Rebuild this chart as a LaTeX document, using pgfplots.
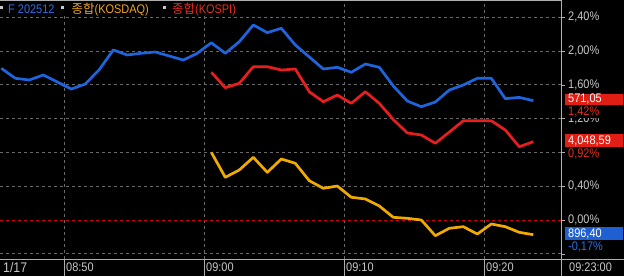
\documentclass[border=0pt]{standalone}
\usepackage{fontspec}
\setmainfont[FakeStretch=0.88]{Liberation Sans}
\newfontfamily\kr{Noto Sans CJK KR}
\usepackage{pgfplots}
\usepackage{pgfplotstable}
\pgfplotsset{compat=1.18}

\definecolor{cblue}{RGB}{30,100,220}
\definecolor{cred}{RGB}{232,30,30}
\definecolor{cyel}{RGB}{240,170,0}
\definecolor{cgrid}{RGB}{105,105,105}
\definecolor{caxis}{RGB}{175,175,175}
\definecolor{ctxt}{RGB}{200,200,200}
\definecolor{boxred}{RGB}{225,30,20}
\definecolor{boxblue}{RGB}{30,95,210}
\definecolor{lblue}{RGB}{45,110,230}
\definecolor{lred}{RGB}{230,45,30}
\definecolor{lyel}{RGB}{240,165,30}

% minutes since 08:00 (bar plotted at minute + 0.5), change in percent
\pgfplotstableread{
t v
45.5 1.795
46.5 1.677
47.5 1.657
48.5 1.716
49.5 1.633
50.5 1.550
51.5 1.609
52.5 1.780
53.5 2.012
54.5 1.953
55.5 1.973
56.5 1.988
57.5 1.941
58.5 1.893
59.5 1.973
60.5 2.098
61.5 1.973
62.5 2.110
63.5 2.308
64.5 2.217
65.5 2.269
66.5 2.071
67.5 1.929
68.5 1.787
69.5 1.807
70.5 1.748
71.5 1.846
72.5 1.807
73.5 1.586
74.5 1.408
75.5 1.341
76.5 1.396
77.5 1.538
78.5 1.598
79.5 1.677
80.5 1.677
81.5 1.436
82.5 1.451
83.5 1.412
}\futures

\pgfplotstableread{
t v
60.5 1.748
61.5 1.566
62.5 1.618
63.5 1.814
64.5 1.814
65.5 1.775
66.5 1.787
67.5 1.518
68.5 1.400
69.5 1.479
70.5 1.381
71.5 1.518
72.5 1.381
73.5 1.189
74.5 1.030
75.5 1.006
76.5 0.908
77.5 1.041
78.5 1.175
79.5 1.175
80.5 1.175
81.5 1.065
82.5 0.867
83.5 0.927
}\kospi

\pgfplotstableread{
t v
60.5 0.801
61.5 0.505
62.5 0.592
63.5 0.742
64.5 0.564
65.5 0.722
66.5 0.671
67.5 0.465
68.5 0.375
69.5 0.402
70.5 0.269
71.5 0.249
72.5 0.166
73.5 0.032
74.5 0.020
75.5 0.000
76.5 -0.186
77.5 -0.098
78.5 -0.079
79.5 -0.166
80.5 -0.047
81.5 -0.079
82.5 -0.146
83.5 -0.174
}\kosdaq

\begin{document}
\begin{tikzpicture}[x=1bp,y=1bp]
\useasboundingbox (0,-17) rectangle (624,259);
\fill[black] (0,-17) rectangle (624,259);
\begin{axis}[
  at={(0,0)}, anchor=south west,
  scale only axis, width=561bp, height=259bp,
  xmin=45.407, xmax=85.479, ymin=-0.4615, ymax=2.6036,
  axis line style={draw=none},
  xtick={50,60,70,80}, xticklabels={,,,},
  xtick style={draw=none},
  xmajorgrids, ymajorgrids,
  grid style={cgrid, dash pattern=on 3bp off 3bp, line width=0.7bp},
  ytick={-0.4,0.4,0.8,1.2,1.6,2.0,2.4},
  yticklabels={{},{0,40\%},{},{1,20\%},{1,60\%},{2,00\%},{2,40\%}},
  extra y ticks={0}, extra y tick labels={{0{,}00\%}},
  extra y tick style={grid style={red!80!black, dash pattern=on 3bp off 3bp, line width=0.7bp}},
  minor y tick num=3,
  ytick pos=right, yticklabel pos=right,
  tick align=outside,
  major tick length=4bp, minor tick length=2bp,
  ytick style={caxis, line width=0.6bp},
  yticklabel style={anchor=west, inner sep=0pt, xshift=3bp, font=\fontsize{12.5}{14}\selectfont, text=ctxt},
  clip=false,
]
\addplot[cblue, line width=2.7bp, line join=round] table[x=t,y=v]{\futures};
\addplot[cred, line width=2.7bp, line join=round] table[x=t,y=v]{\kospi};
\addplot[cyel, line width=2.7bp, line join=round] table[x=t,y=v]{\kosdaq};
\coordinate (eb) at (axis cs:83.5,1.412);
\coordinate (er) at (axis cs:83.5,0.927);
\coordinate (ey) at (axis cs:83.5,-0.174);
\end{axis}

% frame lines
\draw[caxis, line width=0.8bp] (0,258.6) -- (561,258.6);
\draw[caxis, line width=0.8bp] (561,-17) -- (561,259);
\draw[caxis, line width=0.8bp] (0,0) -- (624,0);
\foreach \xx in {64.3,204.3,344.3,484.3}
  \draw[caxis, line width=0.8bp] (\xx,0) -- (\xx,-17);

% bottom labels
\begin{scope}[every node/.style={anchor=west, inner sep=0pt, text=ctxt, font=\fontsize{12.5}{14}\selectfont}]
\node[font=\fontsize{14}{15}\selectfont] at (3,-8.5) {1/17};
\node at (66,-8.5) {08:50};
\node at (206,-8.5) {09:00};
\node at (346,-8.5) {09:10};
\node at (486,-8.5) {09:20};
\node at (569,-8.5) {09:23:00};
\end{scope}

% right value boxes
\coordinate (rx) at (565,0);
\begin{scope}[every node/.style={font=\fontsize{12.5}{14}\selectfont}]
\node[fill=boxred, text=white, anchor=west, inner xsep=3bp, inner ysep=0pt,
      text width=52bp, align=left, text height=9bp, text depth=2.5bp] (bb) at ([yshift=1bp]eb -| rx) {571,05};
\node[fill=black, text=lred, anchor=north west, inner xsep=0pt, inner ysep=0.8bp,
      text height=9bp, text depth=1.2bp] at ([xshift=3bp]bb.south west) {1,42\%};
\node[fill=boxred, text=white, anchor=west, inner xsep=3bp, inner ysep=0pt,
      text width=52bp, align=left, text height=10bp, text depth=3bp] (br) at ([yshift=1bp]er -| rx) {4,048,59};
\node[fill=black, text=lred, anchor=north west, inner xsep=0pt, inner ysep=0.8bp,
      text height=9bp, text depth=1.2bp] at ([xshift=3bp]br.south west) {0,92\%};
\node[fill=boxblue, text=white, anchor=west, inner xsep=3bp, inner ysep=0pt,
      text width=52bp, align=left, text height=10bp, text depth=3bp] (by) at ([yshift=1bp]ey -| rx) {896,40};
\node[fill=black, text=lblue, anchor=north west, inner xsep=0pt, inner ysep=0.5bp,
      text height=9bp, text depth=1.2bp] at ([xshift=3bp]by.south west) {-0,17\%};
\end{scope}

% legend
\fill[black] (0,244.5) rectangle (245,258);
\fill[ctxt] (0.5,250) rectangle (3.3,253);
\fill[ctxt] (61,250) rectangle (63.8,253);
\fill[ctxt] (162.8,250) rectangle (165.6,253);
\begin{scope}[every node/.style={anchor=west, inner sep=0pt, font=\fontsize{12.5}{14}\selectfont}]
\node[text=lblue] at (8,249.5) {F 202512};
\node[text=lyel] at (71.5,249.5) {{\kr 종합}(KOSDAQ)};
\node[text=lred] at (172,249.5) {{\kr 종합}(KOSPI)};
\end{scope}
\end{tikzpicture}
\end{document}
